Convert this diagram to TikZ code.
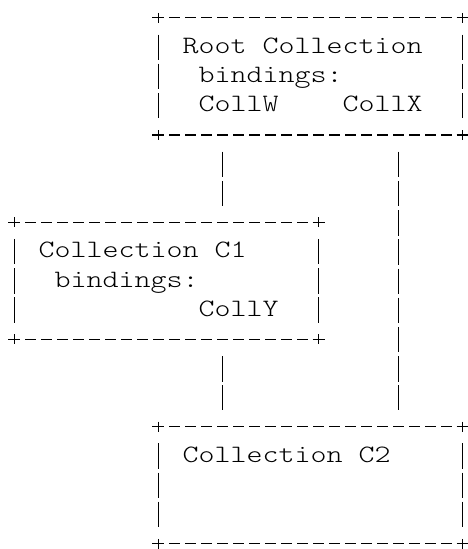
\documentclass[tikz,border=0pt]{standalone}
\usepackage{fontspec}
\usepackage{graphicx}
\usetikzlibrary{calc}
\setmonofont{Latin Modern Mono Light}

% widen the typewriter glyphs to a 16pt cell
\newcommand{\asciitext}[1]{\scalebox{1.219}[1]{#1}}

\begin{document}
\begin{tikzpicture}[x=1pt, y=-1pt,
    rule/.style={line width=1.2pt, line cap=butt},
    dashrule/.style={rule, dash pattern=on 10.5pt off 5.5pt},
    piperule/.style={rule, dash pattern=on 25.5pt off 3.7pt},
    box/.style={rectangle, inner sep=0pt, minimum width=304pt, minimum height=116.8pt},
    txt/.style={anchor=base west, inner sep=0pt, font=\fontsize{25}{25}\selectfont\ttfamily}]
  \useasboundingbox (0,0) rectangle (467,549);

  % Collection boxes
  \node[box] (root) at (310.5,76.4) {};
  \node[box] (c1) at (166.5,280.8) {};
  \node[box] (c2) at (310.5,485.2) {};

  % ascii borders: + corners, - edges, | sides
  \foreach \b in {root,c1,c2} {
    \foreach \k in {north west,north east,south west,south east}
      \draw[rule] (\b.\k) +(-6,0) -- +(6,0) +(0,-5) -- +(0,5);
    \draw[dashrule] ($(\b.north west)+(10.75,0)$) -- ($(\b.north east)+(-10.75,0)$);
    \draw[dashrule] ($(\b.south west)+(10.75,0)$) -- ($(\b.south east)+(-10.75,0)$);
    \draw[piperule] ($(\b.north west)+(0,16.7)$) -- ($(\b.south west)+(0,-16.2)$);
    \draw[piperule] ($(\b.north east)+(0,16.7)$) -- ($(\b.south east)+(0,-16.2)$);
  }

  % Links between collections
  \draw[piperule] ($(root.south west)+(64,16.7)$) -- ($(c1.north west)+(208,-16.2)$);
  \draw[piperule] ($(c1.south west)+(208,16.7)$) -- ($(c2.north west)+(64,-16.2)$);
  \draw[piperule] ($(root.south west)+(240,16.7)$) -- ($(c2.north west)+(240,-16.2)$);

  % Labels inside the boxes
  \node[txt] (rootname) at (182.5,53.5) {\asciitext{Root Collection}};
  \node[txt] (rootbind) at (198.5,82.7) {\asciitext{bindings:}};
  \node[txt] (collw) at (198.5,111.9) {\asciitext{CollW}};
  \node[txt] (collx) at (342.5,111.9) {\asciitext{CollX}};
  \node[txt] (c1name) at (38.5,257.9) {\asciitext{Collection C1}};
  \node[txt] (c1bind) at (54.5,287.1) {\asciitext{bindings:}};
  \node[txt] (colly) at (198.5,316.3) {\asciitext{CollY}};
  \node[txt] (c2name) at (182.5,462.3) {\asciitext{Collection C2}};
\end{tikzpicture}
\end{document}
